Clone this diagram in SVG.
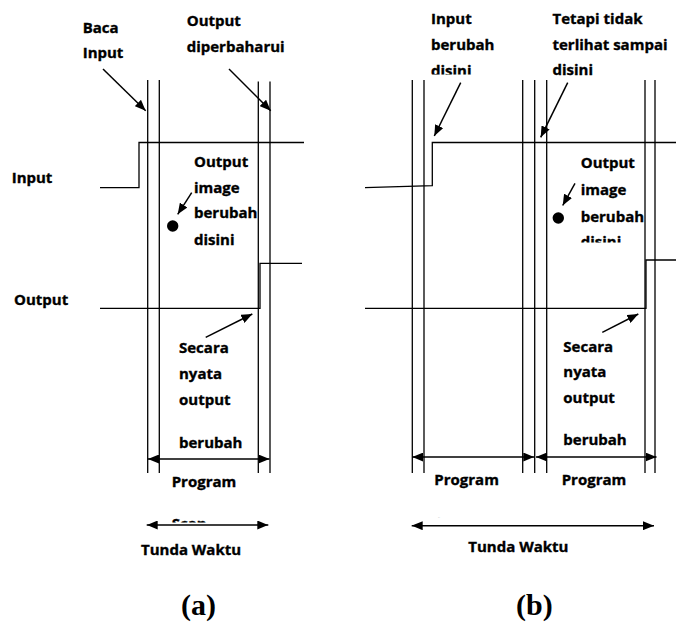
<svg xmlns="http://www.w3.org/2000/svg" width="676" height="625" viewBox="0 0 676 625">
  <style>
    .ln { stroke: #000; stroke-width: 1.3; fill: none; }
    .ar { stroke: #000; stroke-width: 1.5; fill: none; marker-end: url(#head); }
    .dbl { stroke: #000; stroke-width: 1.5; fill: none; marker-start: url(#head); marker-end: url(#head); }
    .t { font-family: "Open Sans", "Liberation Sans", sans-serif; font-weight: 700; font-size: 15px; fill: #000; stroke: #000; stroke-width: 0.35; }
    .cap { font-family: "Liberation Serif", "Times New Roman", serif; font-weight: 700; font-size: 30px; fill: #000; }
  </style>
  <defs>
    <marker id="head" viewBox="0 0 11 9" refX="11" refY="4.5" markerWidth="11" markerHeight="9" markerUnits="userSpaceOnUse" orient="auto-start-reverse">
      <path d="M0,0 L11,4.5 L0,9 Z" fill="#000"/>
    </marker>
    <clipPath id="clipScanA"><rect x="160" y="500" width="80" height="22.5"/></clipPath>
    <clipPath id="clipScanB"><rect x="425" y="500" width="80" height="17.5"/></clipPath>
    <clipPath id="clipDisiniB1"><rect x="420" y="55" width="80" height="19.5"/></clipPath>
    <clipPath id="clipDisiniB2"><rect x="570" y="225" width="80" height="17.5"/></clipPath>
  </defs>

  <!-- (a) single scan -->
  <g id="scan-a-grid">
    <line class="ln" x1="147.7" y1="80" x2="147.7" y2="473"/>
    <line class="ln" x1="159.3" y1="80" x2="159.3" y2="473"/>
    <line class="ln" x1="258.3" y1="81.5" x2="258.3" y2="473"/>
    <line class="ln" x1="270" y1="81.5" x2="270" y2="473"/>
  </g>
  <g id="scan-a-signals">
    <polyline class="ln" points="100,187.7 139,187.7 139,142.5 304,142.5"/>
    <polyline class="ln" points="100,308.3 260,308.3 260,263.3 302,263.3"/>
    <circle cx="172.7" cy="226" r="5.7" fill="#000"/>
  </g>
  <g id="scan-a-labels">
    <text class="t" x="82.7" y="33.3">Baca</text>
    <text class="t" x="82.7" y="58.3">Input</text>
    <text class="t" x="186.7" y="26">Output</text>
    <text class="t" x="186.7" y="51.7">diperbaharui</text>
    <text class="t" x="11.7" y="183.3">Input</text>
    <text class="t" x="14" y="305">Output</text>
    <text class="t" x="194" y="166.7">Output</text>
    <text class="t" x="194" y="192.7">image</text>
    <text class="t" x="194" y="218.3">berubah</text>
    <text class="t" x="194" y="245">disini</text>
    <text class="t" x="179" y="353.3">Secara</text>
    <text class="t" x="179" y="379">nyata</text>
    <text class="t" x="179" y="405">output</text>
    <text class="t" x="179" y="447.7">berubah</text>
    <text class="t" x="171.7" y="486.7">Program</text>
    <text class="t" x="171.7" y="529" clip-path="url(#clipScanA)">Scan</text>
    <text class="t" x="141" y="555">Tunda Waktu</text>
    <text class="cap" x="181" y="615">(a)</text>
  </g>

  <!-- (b) two scans -->
  <g id="scan-b-grid">
    <line class="ln" x1="412.3" y1="80" x2="412.3" y2="473"/>
    <line class="ln" x1="424" y1="80" x2="424" y2="473"/>
    <line class="ln" x1="522.7" y1="80" x2="522.7" y2="473"/>
    <line class="ln" x1="534.7" y1="80" x2="534.7" y2="473"/>
    <line class="ln" x1="546.7" y1="80" x2="546.7" y2="473"/>
    <line class="ln" x1="645" y1="80" x2="645" y2="473"/>
    <line class="ln" x1="655" y1="80" x2="655" y2="473"/>
  </g>
  <g id="scan-b-signals">
    <polyline class="ln" points="365,187.7 432.3,185.7 432.3,142.5 676,142.5"/>
    <polyline class="ln" points="365,308.3 646,308.3 646,260 676,260"/>
    <circle cx="558.3" cy="218" r="5.7" fill="#000"/>
  </g>
  <g id="scan-b-labels">
    <text class="t" x="431" y="24.3">Input</text>
    <text class="t" x="431" y="50">berubah</text>
    <text class="t" x="431" y="76" clip-path="url(#clipDisiniB1)">disini</text>
    <text class="t" x="552.5" y="23.5">Tetapi tidak</text>
    <text class="t" x="552.5" y="49.5">terlihat sampai</text>
    <text class="t" x="552.5" y="74.5">disini</text>
    <text class="t" x="580.7" y="168.3">Output</text>
    <text class="t" x="580.7" y="195">image</text>
    <text class="t" x="580.7" y="221.7">berubah</text>
    <text class="t" x="580.7" y="247" clip-path="url(#clipDisiniB2)">disini</text>
    <text class="t" x="563.3" y="351.7">Secara</text>
    <text class="t" x="563.3" y="377.3">nyata</text>
    <text class="t" x="563.3" y="403.3">output</text>
    <text class="t" x="563.3" y="445">berubah</text>
    <text class="t" x="434.3" y="485">Program</text>
    <text class="t" x="561.7" y="485">Program</text>
    <text class="t" x="434.3" y="528" clip-path="url(#clipScanB)">Scan</text>
    <text class="t" x="468.3" y="552.3">Tunda Waktu</text>
    <text class="cap" x="516" y="615">(b)</text>
  </g>

  <!-- arrows -->
  <g id="connectors">
    <line class="ar" x1="103" y1="69" x2="145.7" y2="110.7"/>
    <line class="ar" x1="229" y1="69" x2="270.7" y2="110.7"/>
    <line class="ar" x1="191.7" y1="192.7" x2="177.7" y2="214.3"/>
    <line class="ar" x1="205.7" y1="337.3" x2="252.3" y2="314"/>
    <line class="dbl" x1="148" y1="459" x2="269.5" y2="459"/>
    <line class="dbl" x1="146.7" y1="525" x2="268.3" y2="525"/>

    <line class="ar" x1="460.7" y1="82.7" x2="434.3" y2="136"/>
    <line class="ar" x1="567.7" y1="82.7" x2="540.7" y2="137.3"/>
    <line class="ar" x1="575" y1="183.3" x2="562.7" y2="205.5"/>
    <line class="ar" x1="602.3" y1="332.3" x2="638.3" y2="314"/>
    <line class="dbl" x1="412.3" y1="457" x2="534.3" y2="457"/>
    <line class="dbl" x1="536" y1="457" x2="656.5" y2="457"/>
    <line class="dbl" x1="411.7" y1="525.7" x2="654" y2="525.7"/>
  </g>
</svg>
